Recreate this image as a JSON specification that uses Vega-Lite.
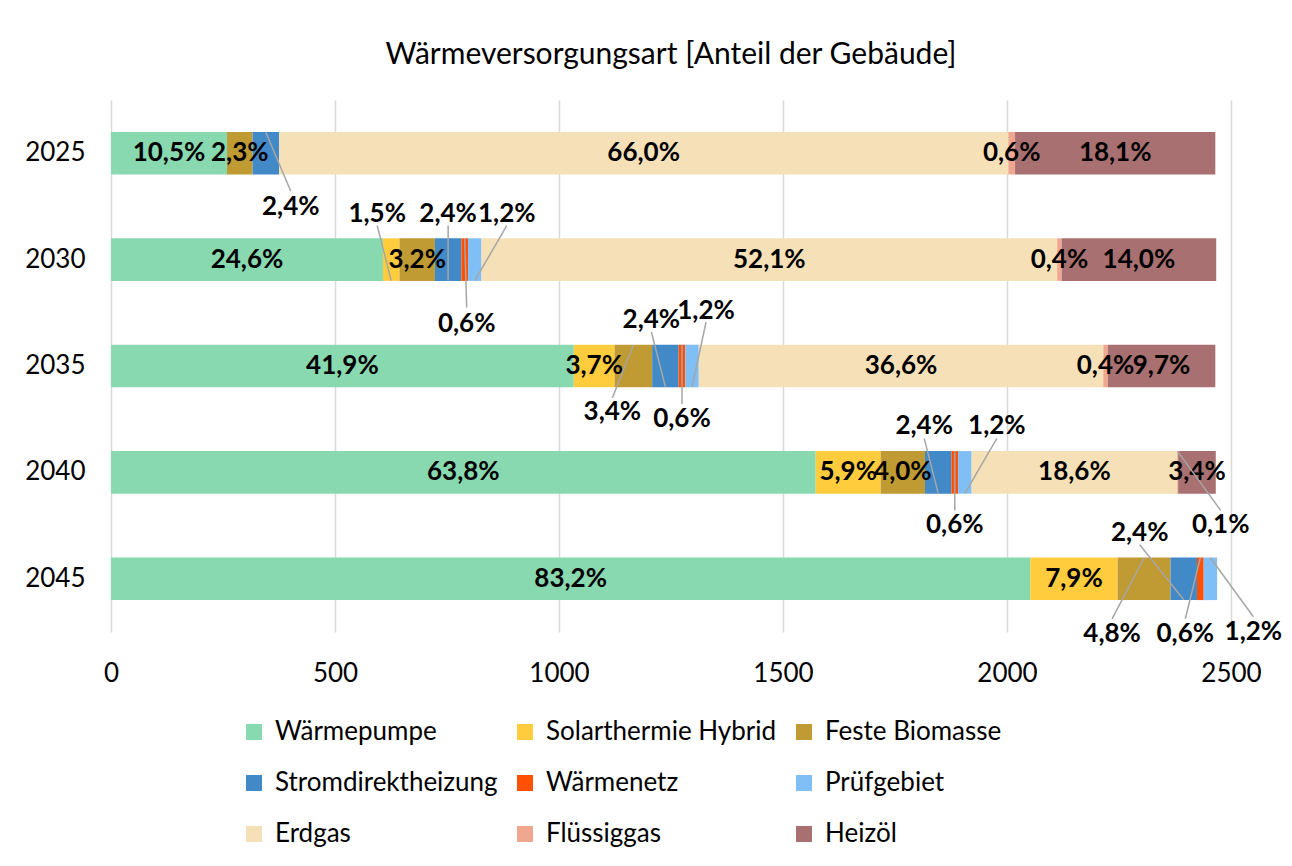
{
  "$schema": "https://vega.github.io/schema/vega-lite/v6.json",
  "width": 1120,
  "height": 532,
  "autosize": {"type": "none"},
  "padding": {"left": 111, "top": 100, "right": 61, "bottom": 234},
  "background": "white",
  "config": {
    "font": "Lato",
    "view": {"stroke": null},
    "locale": {"number": {"decimal": ",", "thousands": ".", "grouping": [3], "currency": ["", " €"]}}
  },
  "title": {
    "text": "Wärmeversorgungsart [Anteil der Gebäude]",
    "fontSize": 30,
    "fontWeight": "normal",
    "color": "#000000",
    "anchor": "middle",
    "offset": 30
  },
  "data": {
    "values": [
      {"year": "2025", "type": "Wärmepumpe", "count": 259, "share": 0.105},
      {"year": "2025", "type": "Feste Biomasse", "count": 57, "share": 0.023},
      {"year": "2025", "type": "Stromdirektheizung", "count": 59, "share": 0.024},
      {"year": "2025", "type": "Erdgas", "count": 1628, "share": 0.660},
      {"year": "2025", "type": "Flüssiggas", "count": 15, "share": 0.006},
      {"year": "2025", "type": "Heizöl", "count": 447, "share": 0.181},
      {"year": "2030", "type": "Wärmepumpe", "count": 607, "share": 0.246},
      {"year": "2030", "type": "Solarthermie Hybrid", "count": 37, "share": 0.015},
      {"year": "2030", "type": "Feste Biomasse", "count": 79, "share": 0.032},
      {"year": "2030", "type": "Stromdirektheizung", "count": 59, "share": 0.024},
      {"year": "2030", "type": "Wärmenetz", "count": 15, "share": 0.006},
      {"year": "2030", "type": "Prüfgebiet", "count": 30, "share": 0.012},
      {"year": "2030", "type": "Erdgas", "count": 1285, "share": 0.521},
      {"year": "2030", "type": "Flüssiggas", "count": 10, "share": 0.004},
      {"year": "2030", "type": "Heizöl", "count": 345, "share": 0.140},
      {"year": "2035", "type": "Wärmepumpe", "count": 1033, "share": 0.419},
      {"year": "2035", "type": "Solarthermie Hybrid", "count": 91, "share": 0.037},
      {"year": "2035", "type": "Feste Biomasse", "count": 84, "share": 0.034},
      {"year": "2035", "type": "Stromdirektheizung", "count": 59, "share": 0.024},
      {"year": "2035", "type": "Wärmenetz", "count": 15, "share": 0.006},
      {"year": "2035", "type": "Prüfgebiet", "count": 30, "share": 0.012},
      {"year": "2035", "type": "Erdgas", "count": 903, "share": 0.366},
      {"year": "2035", "type": "Flüssiggas", "count": 10, "share": 0.004},
      {"year": "2035", "type": "Heizöl", "count": 240, "share": 0.097},
      {"year": "2040", "type": "Wärmepumpe", "count": 1573, "share": 0.638},
      {"year": "2040", "type": "Solarthermie Hybrid", "count": 145, "share": 0.059},
      {"year": "2040", "type": "Feste Biomasse", "count": 99, "share": 0.040},
      {"year": "2040", "type": "Stromdirektheizung", "count": 59, "share": 0.024},
      {"year": "2040", "type": "Wärmenetz", "count": 15, "share": 0.006},
      {"year": "2040", "type": "Prüfgebiet", "count": 30, "share": 0.012},
      {"year": "2040", "type": "Erdgas", "count": 459, "share": 0.186},
      {"year": "2040", "type": "Flüssiggas", "count": 2, "share": 0.001},
      {"year": "2040", "type": "Heizöl", "count": 84, "share": 0.034},
      {"year": "2045", "type": "Wärmepumpe", "count": 2052, "share": 0.832},
      {"year": "2045", "type": "Solarthermie Hybrid", "count": 195, "share": 0.079},
      {"year": "2045", "type": "Feste Biomasse", "count": 118, "share": 0.048},
      {"year": "2045", "type": "Stromdirektheizung", "count": 59, "share": 0.024},
      {"year": "2045", "type": "Wärmenetz", "count": 15, "share": 0.006},
      {"year": "2045", "type": "Prüfgebiet", "count": 30, "share": 0.012}
    ]
  },
  "transform": [
    {"calculate": "indexof(['Wärmepumpe','Solarthermie Hybrid','Feste Biomasse','Stromdirektheizung','Wärmenetz','Prüfgebiet','Erdgas','Flüssiggas','Heizöl'], datum.type)", "as": "order"},
    {"stack": "count", "groupby": ["year"], "sort": [{"field": "order", "order": "ascending"}], "as": ["x0", "x1"]},
    {"calculate": "(datum.x0 + datum.x1) / 2", "as": "mid"},
    {"calculate": "datum.year + '|' + datum.type", "as": "id"}
  ],
  "encoding": {
    "y": {
      "field": "year",
      "type": "ordinal",
      "sort": "ascending",
      "title": null,
      "scale": {"paddingInner": 0.6, "paddingOuter": 0.3},
      "axis": {"ticks": false, "domain": false, "labelFontSize": 26, "labelColor": "#000000", "labelPadding": 26}
    }
  },
  "layer": [
    {
      "mark": {"type": "bar"},
      "encoding": {
        "x": {
          "field": "x0",
          "type": "quantitative",
          "title": null,
          "scale": {"domain": [0, 2500], "nice": false},
          "axis": {"values": [0, 500, 1000, 1500, 2000, 2500], "format": "d", "ticks": false, "domain": false, "grid": true, "gridColor": "#d9d9d9", "gridWidth": 1.5, "labelFontSize": 26, "labelColor": "#000000", "labelPadding": 28, "labelFlush": false, "labelOverlap": false}
        },
        "x2": {"field": "x1"},
        "color": {
          "field": "type",
          "type": "nominal",
          "title": null,
          "scale": {
            "domain": ["Wärmepumpe", "Solarthermie Hybrid", "Feste Biomasse", "Stromdirektheizung", "Wärmenetz", "Prüfgebiet", "Erdgas", "Flüssiggas", "Heizöl"],
            "range": ["#88d8b0", "#ffcc3e", "#c09a32", "#4189c7", "#ff5003", "#7fbff5", "#f5e0b7", "#efa78f", "#a87070"]
          },
          "legend": {
            "orient": "none",
            "legendX": 130,
            "legendY": 619,
            "direction": "horizontal",
            "columns": 3,
            "symbolType": "square",
            "symbolSize": 256,
            "symbolStrokeWidth": 0,
            "labelFontSize": 26,
            "labelColor": "#000000",
            "labelOffset": 8,
            "columnPadding": 14,
            "rowPadding": 25,
            "padding": 0,
            "labelLimit": 400
          }
        }
      }
    },
    {
      "transform": [{"filter": "indexof(['2045|Stromdirektheizung','2030|Solarthermie Hybrid','2035|Stromdirektheizung','2040|Stromdirektheizung','2030|Stromdirektheizung','2035|Prüfgebiet','2030|Prüfgebiet','2040|Prüfgebiet','2035|Feste Biomasse','2045|Feste Biomasse','2045|Wärmenetz','2030|Wärmenetz','2035|Wärmenetz','2040|Wärmenetz','2025|Stromdirektheizung','2045|Prüfgebiet','2040|Flüssiggas'], datum.id) < 0"}],
      "mark": {"type": "text", "fontSize": 26, "fontWeight": "bold", "color": "#000000", "baseline": "middle"},
      "encoding": {
        "x": {"field": "mid", "type": "quantitative"},
        "text": {"field": "share", "type": "quantitative", "format": ".1%"}
      }
    },
    {
      "transform": [{"filter": "indexof(['2045|Stromdirektheizung'], datum.id) >= 0"}],
      "layer": [
        {"mark": {"type": "rule", "color": "#a6a6a6", "strokeWidth": 1.5, "yOffset": 21, "y2Offset": -34, "x2Offset": -44}, "encoding": {"x": {"field": "mid", "type": "quantitative"}, "x2": {"field": "mid"}, "y2": {"field": "year"}}},
        {"mark": {"type": "text", "fontSize": 26, "fontWeight": "bold", "color": "#000000", "baseline": "middle", "dy": -46, "dx": -44}, "encoding": {"x": {"field": "mid", "type": "quantitative"}, "text": {"field": "share", "type": "quantitative", "format": ".1%"}}}
      ]
    },
    {
      "transform": [{"filter": "indexof(['2030|Solarthermie Hybrid','2035|Stromdirektheizung','2040|Stromdirektheizung'], datum.id) >= 0"}],
      "layer": [
        {"mark": {"type": "rule", "color": "#a6a6a6", "strokeWidth": 1.5, "yOffset": 21, "y2Offset": -34, "x2Offset": -14}, "encoding": {"x": {"field": "mid", "type": "quantitative"}, "x2": {"field": "mid"}, "y2": {"field": "year"}}},
        {"mark": {"type": "text", "fontSize": 26, "fontWeight": "bold", "color": "#000000", "baseline": "middle", "dy": -46, "dx": -14}, "encoding": {"x": {"field": "mid", "type": "quantitative"}, "text": {"field": "share", "type": "quantitative", "format": ".1%"}}}
      ]
    },
    {
      "transform": [{"filter": "indexof(['2030|Stromdirektheizung'], datum.id) >= 0"}],
      "layer": [
        {"mark": {"type": "rule", "color": "#a6a6a6", "strokeWidth": 1.5, "yOffset": 21, "y2Offset": -34, "x2Offset": 0}, "encoding": {"x": {"field": "mid", "type": "quantitative"}, "x2": {"field": "mid"}, "y2": {"field": "year"}}},
        {"mark": {"type": "text", "fontSize": 26, "fontWeight": "bold", "color": "#000000", "baseline": "middle", "dy": -46, "dx": 0}, "encoding": {"x": {"field": "mid", "type": "quantitative"}, "text": {"field": "share", "type": "quantitative", "format": ".1%"}}}
      ]
    },
    {
      "transform": [{"filter": "indexof(['2035|Prüfgebiet'], datum.id) >= 0"}],
      "layer": [
        {"mark": {"type": "rule", "color": "#a6a6a6", "strokeWidth": 1.5, "yOffset": 21, "y2Offset": -44, "x2Offset": 14}, "encoding": {"x": {"field": "mid", "type": "quantitative"}, "x2": {"field": "mid"}, "y2": {"field": "year"}}},
        {"mark": {"type": "text", "fontSize": 26, "fontWeight": "bold", "color": "#000000", "baseline": "middle", "dy": -55, "dx": 14}, "encoding": {"x": {"field": "mid", "type": "quantitative"}, "text": {"field": "share", "type": "quantitative", "format": ".1%"}}}
      ]
    },
    {
      "transform": [{"filter": "indexof(['2030|Prüfgebiet','2040|Prüfgebiet'], datum.id) >= 0"}],
      "layer": [
        {"mark": {"type": "rule", "color": "#a6a6a6", "strokeWidth": 1.5, "yOffset": 21, "y2Offset": -34, "x2Offset": 32}, "encoding": {"x": {"field": "mid", "type": "quantitative"}, "x2": {"field": "mid"}, "y2": {"field": "year"}}},
        {"mark": {"type": "text", "fontSize": 26, "fontWeight": "bold", "color": "#000000", "baseline": "middle", "dy": -46, "dx": 32}, "encoding": {"x": {"field": "mid", "type": "quantitative"}, "text": {"field": "share", "type": "quantitative", "format": ".1%"}}}
      ]
    },
    {
      "transform": [{"filter": "indexof(['2045|Feste Biomasse'], datum.id) >= 0"}],
      "layer": [
        {"mark": {"type": "rule", "color": "#a6a6a6", "strokeWidth": 1.5, "yOffset": -21, "y2Offset": 40, "x2Offset": -32}, "encoding": {"x": {"field": "mid", "type": "quantitative"}, "x2": {"field": "mid"}, "y2": {"field": "year"}}},
        {"mark": {"type": "text", "fontSize": 26, "fontWeight": "bold", "color": "#000000", "baseline": "middle", "dy": 55, "dx": -32}, "encoding": {"x": {"field": "mid", "type": "quantitative"}, "text": {"field": "share", "type": "quantitative", "format": ".1%"}}}
      ]
    },
    {
      "transform": [{"filter": "indexof(['2035|Feste Biomasse'], datum.id) >= 0"}],
      "layer": [
        {"mark": {"type": "rule", "color": "#a6a6a6", "strokeWidth": 1.5, "yOffset": -21, "y2Offset": 32, "x2Offset": -21}, "encoding": {"x": {"field": "mid", "type": "quantitative"}, "x2": {"field": "mid"}, "y2": {"field": "year"}}},
        {"mark": {"type": "text", "fontSize": 26, "fontWeight": "bold", "color": "#000000", "baseline": "middle", "dy": 46, "dx": -21}, "encoding": {"x": {"field": "mid", "type": "quantitative"}, "text": {"field": "share", "type": "quantitative", "format": ".1%"}}}
      ]
    },
    {
      "transform": [{"filter": "indexof(['2045|Wärmenetz'], datum.id) >= 0"}],
      "layer": [
        {"mark": {"type": "rule", "color": "#a6a6a6", "strokeWidth": 1.5, "yOffset": -21, "y2Offset": 40, "x2Offset": -15}, "encoding": {"x": {"field": "mid", "type": "quantitative"}, "x2": {"field": "mid"}, "y2": {"field": "year"}}},
        {"mark": {"type": "text", "fontSize": 26, "fontWeight": "bold", "color": "#000000", "baseline": "middle", "dy": 55, "dx": -15}, "encoding": {"x": {"field": "mid", "type": "quantitative"}, "text": {"field": "share", "type": "quantitative", "format": ".1%"}}}
      ]
    },
    {
      "transform": [{"filter": "indexof(['2035|Wärmenetz','2040|Wärmenetz'], datum.id) >= 0"}],
      "layer": [
        {"mark": {"type": "rule", "color": "#a6a6a6", "strokeWidth": 1.5, "yOffset": -21, "y2Offset": 38, "x2Offset": 0}, "encoding": {"x": {"field": "mid", "type": "quantitative"}, "x2": {"field": "mid"}, "y2": {"field": "year"}}},
        {"mark": {"type": "text", "fontSize": 26, "fontWeight": "bold", "color": "#000000", "baseline": "middle", "dy": 53, "dx": 0}, "encoding": {"x": {"field": "mid", "type": "quantitative"}, "text": {"field": "share", "type": "quantitative", "format": ".1%"}}}
      ]
    },
    {
      "transform": [{"filter": "indexof(['2030|Wärmenetz'], datum.id) >= 0"}],
      "layer": [
        {"mark": {"type": "rule", "color": "#a6a6a6", "strokeWidth": 1.5, "yOffset": -21, "y2Offset": 48, "x2Offset": 2}, "encoding": {"x": {"field": "mid", "type": "quantitative"}, "x2": {"field": "mid"}, "y2": {"field": "year"}}},
        {"mark": {"type": "text", "fontSize": 26, "fontWeight": "bold", "color": "#000000", "baseline": "middle", "dy": 64, "dx": 2}, "encoding": {"x": {"field": "mid", "type": "quantitative"}, "text": {"field": "share", "type": "quantitative", "format": ".1%"}}}
      ]
    },
    {
      "transform": [{"filter": "indexof(['2025|Stromdirektheizung'], datum.id) >= 0"}],
      "layer": [
        {"mark": {"type": "rule", "color": "#a6a6a6", "strokeWidth": 1.5, "yOffset": -21, "y2Offset": 38, "x2Offset": 25}, "encoding": {"x": {"field": "mid", "type": "quantitative"}, "x2": {"field": "mid"}, "y2": {"field": "year"}}},
        {"mark": {"type": "text", "fontSize": 26, "fontWeight": "bold", "color": "#000000", "baseline": "middle", "dy": 54, "dx": 25}, "encoding": {"x": {"field": "mid", "type": "quantitative"}, "text": {"field": "share", "type": "quantitative", "format": ".1%"}}}
      ]
    },
    {
      "transform": [{"filter": "indexof(['2045|Prüfgebiet','2040|Flüssiggas'], datum.id) >= 0"}],
      "layer": [
        {"mark": {"type": "rule", "color": "#a6a6a6", "strokeWidth": 1.5, "yOffset": -21, "y2Offset": 38, "x2Offset": 43}, "encoding": {"x": {"field": "mid", "type": "quantitative"}, "x2": {"field": "mid"}, "y2": {"field": "year"}}},
        {"mark": {"type": "text", "fontSize": 26, "fontWeight": "bold", "color": "#000000", "baseline": "middle", "dy": 53, "dx": 43}, "encoding": {"x": {"field": "mid", "type": "quantitative"}, "text": {"field": "share", "type": "quantitative", "format": ".1%"}}}
      ]
    }
  ]
}
